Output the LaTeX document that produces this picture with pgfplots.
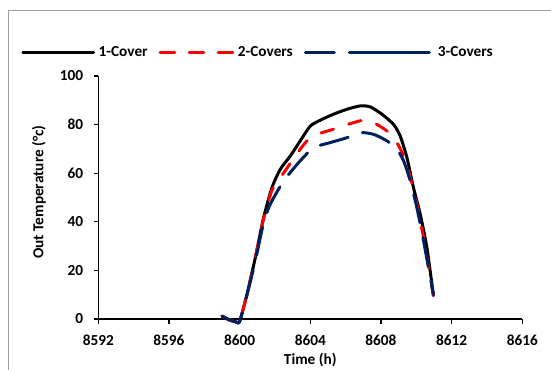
\documentclass[border=0pt]{standalone}
\usepackage{pgfplots}
\pgfplotsset{compat=1.18}
\usepackage{fontspec}
\setmainfont{Carlito}
\definecolor{navy}{RGB}{0,32,96}
\definecolor{bordergray}{RGB}{160,160,160}
\newcommand{\chartfont}{\fontsize{15.3bp}{18bp}\selectfont\bfseries}

\pgfplotsset{
  legone/.style={legend image code/.code={\path (0bp,0bp) -- (70.7bp,0bp); \draw[##1] (0bp,0bp) -- (65.3bp,0bp);}},
  legtwo/.style={legend image code/.code={\path (0bp,0bp) -- (72.8bp,0bp); \draw[##1] (1.8bp,0bp) -- (72.8bp,0bp);}},
  legthree/.style={legend image code/.code={\path (0bp,0bp) -- (127.5bp,0bp); \draw[##1] (58.5bp,0bp) -- (124bp,0bp);}},
}

\pgfplotstableread{
x y
8599.0 1.2
8599.4 -0.3
8599.8 -1.2
8600.0 -1.0
8600.42 10.3
8600.89 25.3
8601.36 41.8
8601.83 54.1
8602.30 61.6
8602.87 67.1
8603.43 73.3
8604.00 79.4
8604.56 81.8
8605.32 84.3
8606.07 86.3
8606.83 87.7
8607.39 87.3
8608.05 84.3
8608.71 80.1
8609.09 75.3
8609.47 66.4
8609.84 54.1
8610.22 43.2
8610.60 29.4
8610.97 9.6
}\onecover

\pgfplotstableread{
x y
8599.0 1.2
8599.4 -0.3
8599.8 -1.2
8600.0 -1.0
8600.42 10.3
8600.89 25.3
8601.36 41.5
8601.83 53.0
8602.30 58.2
8602.58 61.0
8603.15 67.1
8603.81 73.3
8604.38 76.0
8605.32 78.1
8606.26 80.4
8607.01 81.8
8607.58 80.8
8608.34 77.4
8608.90 72.6
8609.28 67.1
8609.66 58.2
8610.03 47.3
8610.41 33.5
8610.97 9.6
}\twocovers

\pgfplotstableread{
x y
8599.0 1.2
8599.4 -0.3
8599.8 -1.2
8600.0 -1.0
8600.42 10.0
8600.89 24.0
8601.36 39.7
8601.74 47.3
8602.49 56.8
8603.43 65.1
8604.19 70.5
8605.13 72.6
8606.07 74.6
8606.83 76.7
8607.58 76.0
8608.34 73.3
8608.90 69.9
8609.28 65.1
8609.66 56.8
8610.03 45.9
8610.41 32.2
8610.97 10.0
}\threecovers

\begin{document}
\begin{tikzpicture}
\useasboundingbox (0,0) rectangle (551bp,-370bp);
\clip (0,0) rectangle (551bp,-370bp);
\draw[bordergray, line width=1bp] (8bp,-380bp) -- (8bp,-10bp) -- (560bp,-10bp);
\begin{axis}[
  at={(98.3bp,-319bp)}, anchor=south west,
  scale only axis, width=424bp, height=243bp,
  xmin=8592, xmax=8616, ymin=0, ymax=100,
  xtick={8592,8596,...,8616}, ytick={0,20,...,100},
  axis x line=bottom, axis y line=left,
  axis line style={-, line width=1.3bp},
  tick style={line width=1.2bp, black},
  tick align=outside, major tick length=4.5bp,
  minor tick num=0,
  clip=false,
  /pgf/number format/assume math mode=true,
  /pgf/number format/1000 sep={},
  tick label style={font=\chartfont},
  xticklabel style={anchor=north, inner sep=0pt, yshift=-10.8bp},
  yticklabel style={anchor=east, inner sep=0pt, xshift=-10.5bp},
  xlabel={Time (h)},
  ylabel={Out Temperature (°c)},
  every axis x label/.style={at={(axis description cs:0.5,0)}, anchor=base, yshift=-45.3bp, font=\chartfont},
  every axis y label/.style={at={(axis description cs:-0.1399,0.5226)}, rotate=90, anchor=center, font=\chartfont},
  legend columns=3,
  legend style={at={(axis description cs:-0.1811,1.0975)}, anchor=west, draw=none, fill=none, inner sep=0pt, outer sep=0pt,
    font=\chartfont, nodes={inner sep=0pt},
    /tikz/every odd column/.append style={column sep=3.5bp},
    /tikz/every even column/.append style={column sep=11bp}},
  legend cell align=left,
]
\addplot[black, line width=3bp, line cap=round, line join=round, smooth, tension=0.4, legone]
  table[x=x, y=y] {\onecover};
\addlegendentry{1-Cover}
\addplot[red, line width=3bp, line cap=round, line join=round, smooth, tension=0.4, dash pattern=on 13bp off 16bp, legtwo]
  table[x=x, y=y] {\twocovers};
\addlegendentry{2-Covers}
\addplot[navy, line width=3bp, line cap=round, line join=round, smooth, tension=0.4, dash pattern=on 29bp off 15bp, legthree]
  table[x=x, y=y] {\threecovers};
\addlegendentry{3-Covers}
\end{axis}
\end{tikzpicture}
\end{document}
